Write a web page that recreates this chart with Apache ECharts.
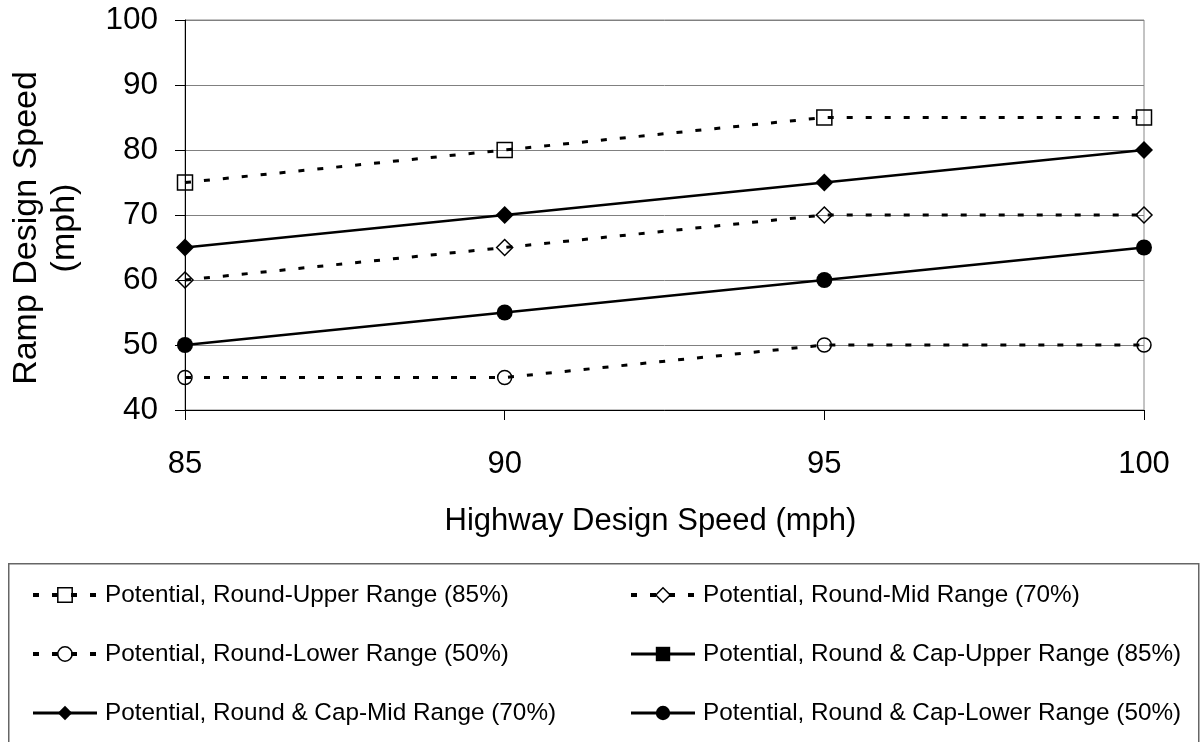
<!DOCTYPE html>
<html>
<head>
<meta charset="utf-8">
<script src="https://cdn.jsdelivr.net/npm/echarts@6/dist/echarts.min.js"></script>
<style>
  html, body { margin: 0; padding: 0; background: #fff; }
  #chart { width: 1201px; height: 742px; }
</style>
</head>
<body>
<div id="chart"></div>
<script>
// ---- data ----
var highwaySpeeds = [85, 90, 95, 100];
var yTicks = [40, 50, 60, 70, 80, 90, 100];
var seriesNames = [
  'Potential, Round-Upper Range (85%)',
  'Potential, Round-Mid Range (70%)',
  'Potential, Round-Lower Range (50%)',
  'Potential, Round & Cap-Upper Range (85%)',
  'Potential, Round & Cap-Mid Range (70%)',
  'Potential, Round & Cap-Lower Range (50%)'
];
var roundUpper = [75, 80, 85, 85];
var roundMid = [60, 65, 70, 70];
var roundLower = [45, 45, 50, 50];
var capUpper = [null, null, null, null];
var capMid = [65, 70, 75, 80];
var capLower = [50, 55, 60, 65];

// ---- chart ----
var FONT = 'Liberation Sans, Arial, sans-serif';
var DASH = [6, 13];
function pairs(vals) {
  return highwaySpeeds.map(function (x, i) { return [x, vals[i]]; });
}
function dashedSeries(name, vals, symbol, size) {
  return {
    name: name, type: 'line', data: pairs(vals),
    symbol: symbol, symbolSize: size,
    lineStyle: { color: '#000', width: 3, type: DASH },
    itemStyle: { color: 'rgba(255,255,255,0)', borderColor: '#000', borderWidth: 1.5 },
    emphasis: { disabled: true }, z: 3
  };
}
function solidSeries(name, vals, symbol, size) {
  return {
    name: name, type: 'line', data: pairs(vals),
    symbol: symbol, symbolSize: size,
    lineStyle: { color: '#000', width: 2.5, type: 'solid' },
    itemStyle: { color: '#000', borderColor: '#000', borderWidth: 0 },
    emphasis: { disabled: true }, z: 4
  };
}
function legendItem(i, dashed) {
  return {
    name: seriesNames[i],
    lineStyle: { width: dashed ? 4 : 3, type: dashed ? DASH : 'solid', color: '#000' },
    itemStyle: dashed ? { borderWidth: 1.5, borderColor: '#000' } : { borderWidth: 0 }
  };
}

var chart = echarts.init(document.getElementById('chart'));
var legendCommon = {
  orient: 'vertical', top: 583, padding: 0,
  itemWidth: 64, itemHeight: 18, itemGap: 35,
  selectedMode: false,
  textStyle: { fontFamily: FONT, fontSize: 24.3, color: '#000', lineHeight: 24, padding: [0, 0, 0, 3] }
};
chart.setOption({
  animation: false,
  backgroundColor: '#fff',
  grid: { left: 182, right: 57, top: 20, bottom: 332, show: true, borderColor: '#888', borderWidth: 1 },
  xAxis: {
    type: 'value', min: 85, max: 100, interval: 5,
    name: 'Highway Design Speed (mph)', nameLocation: 'middle', nameGap: 96,
    nameTextStyle: { fontFamily: FONT, fontSize: 31, color: '#000', padding: [0, 28, 0, 0] },
    axisLine: { show: true, lineStyle: { color: '#000', width: 1 } },
    axisTick: { show: true, length: 10, lineStyle: { color: '#000' } },
    axisLabel: { fontFamily: FONT, fontSize: 31, color: '#000', margin: 39 },
    splitLine: { show: false }
  },
  yAxis: {
    type: 'value', min: yTicks[0], max: yTicks[yTicks.length - 1], interval: 10,
    name: 'Ramp Design Speed\n(mph)', nameLocation: 'middle', nameGap: 101, nameRotate: 90,
    nameTextStyle: { fontFamily: FONT, fontSize: 34, color: '#000', lineHeight: 38, align: 'center', padding: [0, 26, 0, 0] },
    axisLine: { show: true, lineStyle: { color: '#000', width: 1 } },
    axisTick: { show: true, length: 10, lineStyle: { color: '#000' } },
    axisLabel: { fontFamily: FONT, fontSize: 31.5, color: '#000', margin: 27 },
    splitLine: { show: true, lineStyle: { color: '#808080', width: 1 } }
  },
  legend: [
    Object.assign({}, legendCommon, { left: 31, data: [legendItem(0, true), legendItem(2, true), legendItem(4, false)] }),
    Object.assign({}, legendCommon, { left: 629, data: [legendItem(1, true), legendItem(3, false), legendItem(5, false)] })
  ],
  graphic: [{
    type: 'rect', left: 8, top: 563, z: -1, silent: true,
    shape: { width: 1190, height: 200 },
    style: { fill: '#fff', stroke: '#666', lineWidth: 1.5 }
  }],
  series: [
    dashedSeries(seriesNames[0], roundUpper, 'rect', 15),
    dashedSeries(seriesNames[1], roundMid, 'diamond', 16),
    dashedSeries(seriesNames[2], roundLower, 'circle', 14),
    solidSeries(seriesNames[3], capUpper, 'rect', 14),
    solidSeries(seriesNames[4], capMid, 'diamond', 18),
    solidSeries(seriesNames[5], capLower, 'circle', 16)
  ]
});
</script>
</body>
</html>
